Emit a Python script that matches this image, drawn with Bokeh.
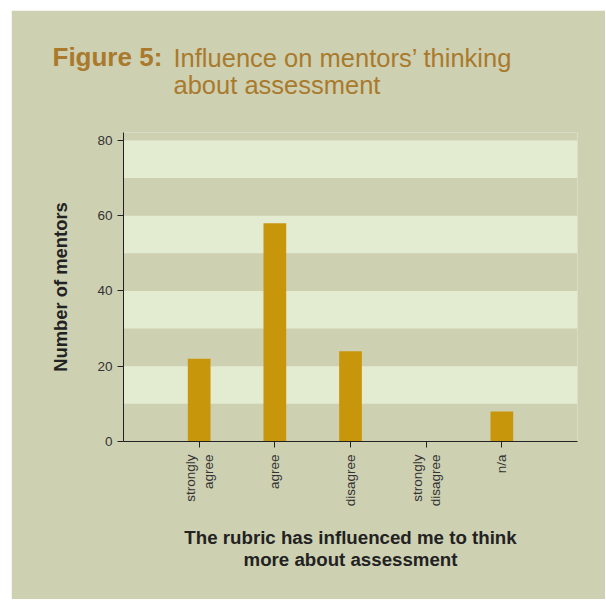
import math
from bokeh.plotting import figure
from bokeh.models import Range1d, FixedTicker, Grid, Title
from bokeh.embed import file_html
from bokeh.resources import INLINE

# ---- data ----
categories = ["strongly\nagree", "agree", "disagree", "strongly\ndisagree", "n/a"]
mentors = [22, 58, 24, 0, 8]
y_ticks = [0, 20, 40, 60, 80]
band_ticks = [0, 10, 20, 30, 40, 50, 60, 70, 80]

title_bold = "Figure 5:"
title_line1 = "Influence on mentors\u2019 thinking"
title_line2 = "about assessment"
x_title_1 = "The rubric has influenced me to think"
x_title_2 = "more about assessment"
y_title = "Number of mentors"

OLIVE = "#ced0b2"
LIGHT = "#e3ebd0"
GOLD = "#c8960a"
TITLE_C = "#a97a2c"
DARK = "#222222"
FONT = "Liberation Sans"

positions = list(range(1, len(categories) + 1))

p = figure(
    frame_width=454, frame_height=309,
    min_border_left=112, min_border_right=28,
    min_border_top=122, min_border_bottom=158,
    x_range=Range1d(0, len(categories) + 1),
    y_range=Range1d(0, 82.1),
    output_backend="svg", toolbar_location=None,
)
p.styles = {"margin-left": "11px", "margin-top": "10px"}
p.background_fill_color = OLIVE
p.border_fill_color = OLIVE
p.outline_line_color = None
p.xgrid.visible = False
p.ygrid.visible = False

band_grid = Grid(dimension=1, ticker=FixedTicker(ticks=band_ticks),
                 grid_line_color=None, band_fill_color=LIGHT, band_fill_alpha=1.0)
p.add_layout(band_grid)

p.vbar(x=positions, top=mentors, width=0.3, fill_color=GOLD, line_color=None)

# axes
p.xaxis.ticker = FixedTicker(ticks=positions)
p.xaxis.major_label_overrides = {pos: lab for pos, lab in zip(positions, categories)}
p.xaxis.major_label_orientation = math.pi / 2
p.xaxis.minor_tick_line_color = None
p.xaxis.major_tick_in = 0
p.xaxis.major_tick_out = 6
p.xaxis.major_label_standoff = 7

p.yaxis.ticker = FixedTicker(ticks=y_ticks)
p.yaxis.minor_tick_line_color = None
p.yaxis.major_tick_in = 0
p.yaxis.major_tick_out = 6
p.yaxis.major_label_standoff = 5
p.yaxis.axis_label = y_title
p.yaxis.axis_label_standoff = 23
p.yaxis.axis_label_text_font = FONT
p.yaxis.axis_label_text_font_size = "18.4px"
p.yaxis.axis_label_text_font_style = "bold"
p.yaxis.axis_label_text_color = DARK

for ax in (p.xaxis, p.yaxis):
    ax.axis_line_color = DARK
    ax.major_tick_line_color = DARK
    ax.major_label_text_font = FONT
    ax.major_label_text_font_size = "13.5px"
    ax.major_label_text_color = "#333333"

# main title rows (above panel, first added is nearest to the frame)
p.add_layout(Title(text=title_line2, align="left", offset=50, standoff=67.8,
                   text_font=FONT, text_font_size="25.5px", text_font_style="normal",
                   text_color=TITLE_C), "above")
p.add_layout(Title(text=title_line1, align="left", offset=50, standoff=-75.4,
                   text_font=FONT, text_font_size="25.5px", text_font_style="normal",
                   text_color=TITLE_C), "above")
p.add_layout(Title(text=title_bold, align="left", offset=-71, standoff=-75.6,
                   text_font=FONT, text_font_size="26px", text_font_style="bold",
                   text_color=TITLE_C), "above")

# x axis title rows (below panel)
p.add_layout(Title(text=x_title_1, align="center", standoff=-76,
                   text_font=FONT, text_font_size="18.7px", text_font_style="bold",
                   text_color=DARK), "below")
p.add_layout(Title(text=x_title_2, align="center", standoff=-120.6,
                   text_font=FONT, text_font_size="18.7px", text_font_style="bold",
                   text_color=DARK), "below")

open("out.html", "w").write(file_html(p, INLINE))
